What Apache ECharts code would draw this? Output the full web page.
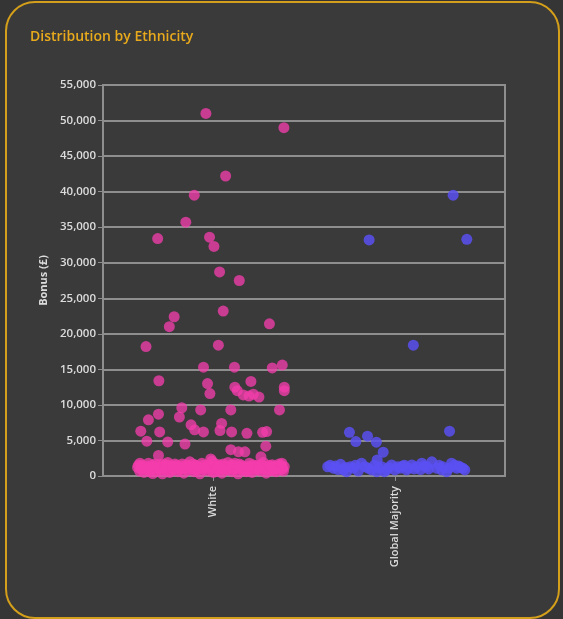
<!DOCTYPE html>
<html>
<head>
<meta charset="utf-8">
<script src="https://cdn.jsdelivr.net/npm/echarts@6.0.0/dist/echarts.min.js"></script>
<style>
    html, body { margin: 0; padding: 0; width: 563px; height: 619px; background: #353535; overflow: hidden; }
    #frame {
        position: absolute; left: 5px; top: 1px; width: 551px; height: 614px;
        border: 2px solid #d49f1a; border-radius: 30px; background: #3a3a3a;
    }
    #chart { position: absolute; left: 0; top: 0; width: 563px; height: 619px; }
</style>
</head>
<body>
<div id="frame"></div>
<div id="chart"></div>
<script>
// categories and where their labels sit on the horizontal (jitter) scale
const categories = ['White', 'Global Majority'];
const categoryPos = [0.274, 0.726];
const yTicks = { min: 0, max: 55000, step: 5000 };

// [jitter position, bonus £]
const whiteOutliers = [
    [0.256, 51000], [0.450, 49000], [0.305, 42200], [0.227, 39500], [0.206, 35700],
    [0.136, 33400], [0.265, 33600], [0.276, 32300], [0.290, 28700], [0.339, 27500],
    [0.177, 22400], [0.165, 21000], [0.299, 23200], [0.414, 21400], [0.107, 18200],
    [0.287, 18400], [0.250, 15300], [0.327, 15300], [0.421, 15200], [0.446, 15600],
    [0.139, 13400], [0.260, 13000], [0.368, 13300], [0.266, 11600], [0.328, 12500],
    [0.334, 12000], [0.349, 11400], [0.363, 11250], [0.374, 11500], [0.388, 11100],
    [0.451, 12500], [0.451, 12000], [0.196, 9600], [0.243, 9300], [0.318, 9300],
    [0.439, 9300], [0.138, 8700], [0.113, 7900], [0.190, 8300], [0.094, 6300],
    [0.141, 6200], [0.219, 7200], [0.228, 6500], [0.250, 6200], [0.295, 7400],
    [0.291, 6400], [0.320, 6200], [0.358, 6000], [0.397, 6150], [0.407, 6250],
    [0.109, 4900], [0.161, 4800], [0.204, 4500], [0.405, 4200], [0.318, 3700],
    [0.337, 3400], [0.353, 3400], [0.138, 2900], [0.393, 2700], [0.268, 2400]
];
const whiteCluster = [
    [0.086, 1200], [0.091, 700], [0.097, 1500], [0.102, 500], [0.108, 1100],
    [0.113, 1800], [0.118, 900], [0.124, 350], [0.127, 1300], [0.133, 700],
    [0.138, 1600], [0.142, 1000], [0.148, 300], [0.151, 1400], [0.157, 800],
    [0.161, 1900], [0.166, 500], [0.171, 1200], [0.177, 900], [0.182, 1500],
    [0.186, 600], [0.192, 1100], [0.197, 1700], [0.201, 400], [0.207, 1300],
    [0.211, 800], [0.216, 2000], [0.222, 1000], [0.226, 600], [0.231, 1500],
    [0.236, 1200], [0.241, 300], [0.246, 1800], [0.252, 900], [0.255, 1400],
    [0.261, 700], [0.267, 1100], [0.271, 2100], [0.274, 500], [0.281, 1300],
    [0.286, 900], [0.289, 1600], [0.296, 400], [0.302, 1200], [0.306, 800],
    [0.311, 1900], [0.314, 1000], [0.321, 600], [0.326, 1500], [0.331, 1100],
    [0.336, 300], [0.339, 1700], [0.346, 800], [0.351, 1300], [0.356, 600],
    [0.361, 1000], [0.364, 1800], [0.371, 500], [0.376, 1200], [0.381, 900],
    [0.384, 1500], [0.391, 700], [0.396, 1100], [0.399, 1900], [0.406, 400],
    [0.411, 1300], [0.416, 800], [0.421, 1600], [0.424, 1000], [0.431, 600],
    [0.436, 1400], [0.441, 900], [0.446, 1200], [0.449, 700], [0.099, 1300],
    [0.131, 1100], [0.169, 700], [0.199, 1000], [0.238, 1200], [0.279, 600],
    [0.318, 1300], [0.358, 700], [0.402, 1000], [0.443, 1500], [0.121, 900],
    [0.159, 1300], [0.213, 1400], [0.263, 1600], [0.309, 900], [0.348, 1000],
    [0.389, 1300], [0.428, 1100], [0.147, 1700], [0.184, 1300], [0.229, 900],
    [0.293, 1400], [0.334, 1000], [0.373, 1600], [0.418, 1200], [0.105, 900],
    [0.088, 1500], [0.094, 1000], [0.111, 1400], [0.116, 600], [0.129, 1700],
    [0.136, 1200], [0.144, 800], [0.154, 1100], [0.163, 1500], [0.174, 1000],
    [0.179, 1700], [0.189, 900], [0.194, 1400], [0.204, 1100], [0.218, 1200],
    [0.224, 1700], [0.233, 800], [0.243, 1000], [0.249, 1500], [0.258, 1100],
    [0.269, 1300], [0.277, 1800], [0.284, 1100], [0.291, 800], [0.299, 1700],
    [0.304, 1400], [0.316, 1200], [0.323, 900], [0.328, 1800], [0.341, 1200],
    [0.344, 1500], [0.353, 900], [0.366, 1300], [0.369, 800], [0.379, 1400],
    [0.386, 1100], [0.394, 1600], [0.404, 1400], [0.409, 800], [0.414, 1500],
    [0.426, 1400], [0.433, 1000], [0.438, 1700], [0.447, 1000], [0.451, 1300],
    [0.092, 1800], [0.123, 1500], [0.156, 1600], [0.187, 1200], [0.221, 1300],
    [0.253, 1200], [0.287, 1300], [0.319, 1600], [0.354, 1200], [0.387, 900],
    [0.419, 1300], [0.445, 1800], [0.114, 1200], [0.173, 1400], [0.234, 1400],
    [0.297, 1000], [0.362, 1400], [0.423, 700], [0.208, 1600], [0.338, 1300]
];
const gmOutliers = [
    [0.871, 39500], [0.662, 33200], [0.905, 33300], [0.772, 18400], [0.862, 6300],
    [0.613, 6150], [0.629, 4850], [0.658, 5600], [0.680, 4750], [0.697, 3350],
    [0.682, 2250]
];
const gmCluster = [
    [0.559, 1300], [0.573, 1100], [0.591, 1650], [0.598, 850], [0.606, 600],
    [0.623, 1100], [0.643, 1800], [0.652, 1300], [0.668, 850], [0.681, 600],
    [0.693, 1300], [0.706, 850], [0.718, 1550], [0.726, 850], [0.739, 1100],
    [0.755, 850], [0.768, 1550], [0.780, 1300], [0.793, 1800], [0.805, 1300],
    [0.818, 2000], [0.830, 1100], [0.842, 850], [0.855, 600], [0.867, 1800],
    [0.880, 1100], [0.900, 850], [0.565, 1500], [0.585, 900], [0.615, 1300],
    [0.635, 700], [0.660, 1100], [0.675, 1500], [0.700, 600], [0.711, 1200],
    [0.745, 1400], [0.760, 1100], [0.790, 900], [0.810, 1000], [0.845, 1300],
    [0.875, 1500], [0.890, 1200], [0.578, 1400], [0.603, 1200], [0.628, 1500],
    [0.686, 1100], [0.733, 1300], [0.750, 1500], [0.774, 1000], [0.799, 1400],
    [0.836, 1500], [0.861, 1100], [0.885, 1400], [0.895, 1100]
];

const gridColor = '#8e8e8e';
const labelColor = '#dcdcdc';

var chartDom = document.getElementById('chart');
var myChart = echarts.init(chartDom, null, {renderer: 'canvas'});
var option = {
    backgroundColor: 'transparent',
    title: {
        text: 'Distribution by Ethnicity',
        left: 25,
        top: 25,
        textStyle: {color: '#e8aa1c', fontSize: 14, fontWeight: 600, fontFamily: 'Open Sans'}
    },
    grid: {
        left: 103, top: 85, width: 402, height: 391,
        show: true, borderColor: gridColor, borderWidth: 2, backgroundColor: 'transparent'
    },
    xAxis: {
        type: 'value',
        min: 0,
        max: 1,
        splitLine: {show: false},
        axisLine: {show: true, lineStyle: {color: gridColor, width: 2}},
        axisTick: {show: true, customValues: categoryPos, length: 5, lineStyle: {color: gridColor}},
        axisLabel: {
            customValues: categoryPos,
            rotate: 90,
            margin: 10,
            color: labelColor,
            fontSize: 11,
            fontWeight: 600,
            fontFamily: 'Open Sans',
            formatter: function (v) {
                const i = categoryPos.findIndex(p => Math.abs(p - v) < 1e-6);
                return i >= 0 ? categories[i] : '';
            }
        }
    },
    yAxis: {
        type: 'value',
        min: yTicks.min,
        max: yTicks.max,
        interval: yTicks.step,
        name: 'Bonus (£)',
        nameLocation: 'middle',
        nameRotate: 90,
        nameGap: 54,
        nameTextStyle: {color: labelColor, fontSize: 11, fontWeight: 700, fontFamily: 'Open Sans'},
        axisLine: {show: true, lineStyle: {color: gridColor, width: 2}},
        axisTick: {show: true, length: 5, lineStyle: {color: gridColor}},
        axisLabel: {color: labelColor, fontSize: 11.5, fontWeight: 600, fontFamily: 'Open Sans', margin: 7},
        splitLine: {show: true, lineStyle: {color: gridColor, width: 2}}
    },
    series: [
        {
            name: 'White',
            type: 'scatter',
            symbolSize: 11,
            itemStyle: {color: '#f53cac', opacity: 0.76},
            data: whiteCluster.concat(whiteOutliers)
        },
        {
            name: 'Global Majority',
            type: 'scatter',
            symbolSize: 11,
            itemStyle: {color: '#5a50f2', opacity: 0.85},
            data: gmCluster.concat(gmOutliers)
        }
    ]
};
option && myChart.setOption(option);
</script>
</body>
</html>
